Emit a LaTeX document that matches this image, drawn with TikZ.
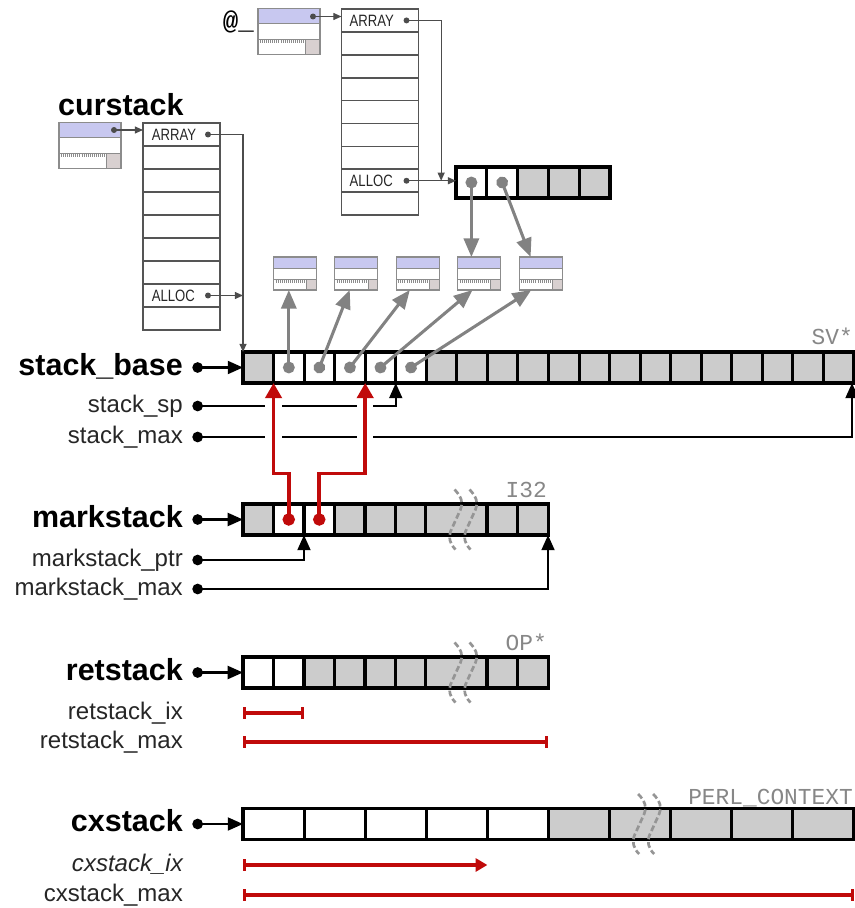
\documentclass[tikz,border=0pt]{standalone}
\usepackage{fontspec}
\setmainfont{Liberation Sans}
\setmonofont{Liberation Mono}
\newfontfamily\narrowsf[FakeStretch=0.8]{Liberation Sans}
\usetikzlibrary{arrows.meta, calc}

\definecolor{cellgray}{RGB}{204,204,204}
\definecolor{svlav}{RGB}{200,200,240}
\definecolor{svsq}{RGB}{216,208,208}
\definecolor{svedge}{RGB}{140,140,140}
\definecolor{ptrgray}{RGB}{130,130,130}
\definecolor{ptrred}{RGB}{192,10,10}
\definecolor{avline}{RGB}{85,85,85}
\definecolor{typegray}{RGB}{135,135,135}

\begin{document}
\begin{tikzpicture}[
    x=0.3mm, y=-0.3mm,
    cell/.style={
        draw,
        line width=2.6pt,
        fill=cellgray,
        inner sep=0pt,
        outer sep=0pt,
        minimum width=9.165mm,
        minimum height=9.3mm
    },
    wcell/.style={cell, minimum width=18.33mm},
    avrow/.style={
        draw=avline,
        line width=1.4pt,
        inner sep=0pt,
        outer sep=0pt,
        minimum width=23.1mm,
        minimum height=6.9mm
    },
    avtext/.style={
        font=\narrowsf\fontsize{14}{16}\selectfont,
        text=black!85,
        inner sep=0pt,
        anchor=west
    },
    sv/.style={
        draw=svedge,
        line width=1pt,
        fill=white,
        inner sep=0pt,
        outer sep=0pt,
        minimum width=18.6mm,
        minimum height=13.8mm,
        path picture={
            \coordinate (svA) at (path picture bounding box.north west);
            \coordinate (svB) at (path picture bounding box.south east);
            \coordinate (svC) at ($(svA)!1/3!(svB)$);
            \coordinate (svD) at ($(svA)!2/3!(svB)$);
            \coordinate (svE) at ($(svA)!0.77!(svB)$);
            \fill[svlav] (svA) rectangle (svB |- svC);
            \fill[svsq] (svE |- svD) rectangle (svB);
            \draw[svedge, line width=0.8pt] (svA |- svC) -- (svB |- svC)
                (svA |- svD) -- (svB |- svD) (svE |- svD) -- (svE |- svB);
            \draw[svedge, line width=2.4pt, dash pattern=on 0.45pt off 1.3pt]
                ($(svA |- svD)+(2,2.5)$) -- ($(svE |- svD)+(-2,2.5)$);
        }
    },
    svsmall/.style={sv, minimum width=12.9mm, minimum height=9.9mm},
    stackname/.style={
        font=\bfseries\fontsize{26}{30}\selectfont,
        inner sep=0pt,
        text height=13.5pt,
        text depth=0pt,
        anchor=east
    },
    fieldname/.style={
        font=\fontsize{20.5}{24}\selectfont,
        text=black!85,
        inner sep=0pt,
        text height=10.6pt,
        text depth=0pt,
        anchor=east
    },
    typename/.style={
        font=\ttfamily\fontsize{19.5}{22}\selectfont,
        text=typegray,
        inner sep=0pt,
        anchor=base east
    },
    ptr/.style={
        {Circle[length=9pt]}-{Triangle[length=13pt,width=11pt]},
        line width=2pt,
        shorten <=8pt
    },
    avptr/.style={
        {Circle[length=5pt]}-{Triangle[length=7pt,width=6pt]},
        line width=1.1pt,
        draw=black!70,
        shorten <=-2.5pt
    },
    svptr/.style={
        {Circle[length=10pt]}-{Triangle[length=16pt,width=13pt]},
        line width=2.6pt,
        draw=ptrgray,
        shorten <=-5pt
    },
    redptr/.style={
        {Circle[length=10.5pt]}-{Triangle[length=13pt,width=14pt]},
        line width=3pt,
        draw=ptrred,
        shorten <=-5.25pt
    },
    span/.style={
        {Bar[width=10pt]}-{Bar[width=10pt]},
        line width=2.8pt,
        draw=ptrred
    },
    halo/.style={draw=white, line width=14pt},
    brkline/.style={draw=ptrgray!85, line width=2.3pt, dash pattern=on 5pt off 2.5pt},
    brk/.pic={
        \foreach \d in {0,15}
            \draw[brkline] (\d-2,-30) .. controls (\d+5,-23) and (\d+7,-16) .. (\d+4,-10)
                -- (\d-6,12) .. controls (\d-8,18) and (\d-7,24) .. (\d-1,30);
    }
]
\useasboundingbox (0,0) rectangle (854,908);

% Nodes: scalars and arrays on top
\node[font=\ttfamily\bfseries\fontsize{22}{24}\selectfont, anchor=base east, inner sep=0pt] (lat) at (254,30) {@\_};
\node[sv] (svat) at (289,31.5) {};
\foreach \i in {1,...,9}
    \node[avrow] (avat-\i) at (380,{9+22.9*(\i-0.5)}) {};
\node[avtext] (taA) at ([xshift=2.4mm]avat-1.west) {ARRAY};
\node[avtext] (taL) at ([xshift=2.4mm]avat-8.west) {ALLOC};

\node[stackname, anchor=base west] (lcur) at (58,116) {curstack};
\node[sv] (svcur) at (90,145.5) {};
\foreach \i in {1,...,9}
    \node[avrow] (avcur-\i) at (181.5,{123+23*(\i-0.5)}) {};
\node[avtext] (tcA) at ([xshift=2.6mm]avcur-1.west) {ARRAY};
\node[avtext] (tcL) at ([xshift=2.6mm]avcur-8.west) {ALLOC};

\foreach \i in {0,...,4}{
    \ifnum\i<2 \def\fillc{white}\else\def\fillc{cellgray}\fi
    \node[cell, minimum width=9.24mm, fill=\fillc] (ta-\i) at ({456+30.8*(\i+0.5)},182.5) {};
}

\foreach \i in {1,...,5}
    \node[svsmall] (sv\i) at ({295+61.4*(\i-1)},273.5) {};

% Nodes: the stacks
\node[stackname] (lsb) at (183,367.5) {stack\_base};
\node[fieldname] (lsp) at (183,406) {stack\_sp};
\node[fieldname] (lsm) at (183,437) {stack\_max};
\foreach \i in {0,...,19}{
    \ifnum\i<1 \def\fillc{cellgray}\else\ifnum\i<6 \def\fillc{white}\else\def\fillc{cellgray}\fi\fi
    \node[cell, fill=\fillc] (sb-\i) at ({243+30.55*(\i+0.5)},367.5) {};
}
\node[typename] (tsv) at (853,344) {SV*};

\node[stackname] (lms) at (183,519.5) {markstack};
\node[fieldname] (lmp) at (183,560) {markstack\_ptr};
\node[fieldname] (lmm) at (183,589) {markstack\_max};
\foreach \i/\x/\fillc/\sty in {0/258.25/cellgray/cell, 1/288.75/white/cell, 2/319.25/white/cell,
        3/349.75/cellgray/cell, 4/380.25/cellgray/cell, 5/410.75/cellgray/cell,
        6/456.5/cellgray/wcell, 7/502.25/cellgray/cell, 8/532.75/cellgray/cell}
    \node[\sty, fill=\fillc] (ms-\i) at (\x,519.5) {};
\pic at (ms-6.center) {brk};
\node[typename] (ti32) at (547,497) {I32};

\node[stackname] (lrs) at (183,672.5) {retstack};
\node[fieldname] (lri) at (183,713) {retstack\_ix};
\node[fieldname] (lrm) at (183,742) {retstack\_max};
\foreach \i/\x/\fillc/\sty in {0/258.25/white/cell, 1/288.75/white/cell, 2/319.25/cellgray/cell,
        3/349.75/cellgray/cell, 4/380.25/cellgray/cell, 5/410.75/cellgray/cell,
        6/456.5/cellgray/wcell, 7/502.25/cellgray/cell, 8/532.75/cellgray/cell}
    \node[\sty, fill=\fillc] (rs-\i) at (\x,672.5) {};
\pic at (rs-6.center) {brk};
\node[typename] (top) at (547,650) {OP*};

\node[stackname] (lcx) at (183,824) {cxstack};
\node[fieldname, font=\itshape\fontsize{20.5}{24}\selectfont] (lci) at (183,865) {cxstack\_ix};
\node[fieldname] (lcm) at (183,895) {cxstack\_max};
\foreach \i in {0,...,9}{
    \ifnum\i<5 \def\fillc{white}\else\def\fillc{cellgray}\fi
    \node[wcell, fill=\fillc] (cx-\i) at ({243+61.1*(\i+0.5)},824) {};
}
\pic at (cx-6.center) {brk};
\node[typename] (tpc) at (853,804) {PERL\_CONTEXT};

% Paths: scalars to arrays
\coordinate (dat) at ($(svat.north east)+(-7,8)$);
\draw[avptr] (dat) -- (dat -| avat-1.west);
\coordinate (daA) at ([xshift=-3.6mm]avat-1.east);
\coordinate (daL) at ([xshift=-3.6mm]avat-8.east);
\draw[avptr] (daL) -- (daL -| ta-0.west);
\draw[avptr] (daA) -| ($(daL)!0.7!(daL -| ta-0.west)$);

\coordinate (dcur) at ($(svcur.north east)+(-7,7.5)$);
\draw[avptr] (dcur) -- (dcur -| avcur-1.west);
\coordinate (dcA) at ([xshift=-3.6mm]avcur-1.east);
\coordinate (dcL) at ([xshift=-3.6mm]avcur-8.east);
\draw[avptr] (dcA) -| (sb-0.north west);
\draw[avptr] (dcL) -- (dcL -| sb-0.north west);

% Paths: stack slots to SVs
\draw[svptr] (sb-1.center) -- (sb-1.center |- sv1.south);
\draw[svptr] (sb-2.center) -- ([xshift=-2mm]sv2.south);
\draw[svptr] (sb-3.center) -- ([xshift=-2.4mm]sv3.south);
\draw[svptr] (sb-4.center) -- ([xshift=-2mm]sv4.south);
\draw[svptr] (sb-5.center) -- ([xshift=-2.8mm]sv5.south);
\draw[svptr] (ta-0.center) -- (ta-0.center |- sv4.north);
\draw[svptr] (ta-1.center) -- ([xshift=-3mm]sv5.north);

% Paths: pointer variables
\draw[ptr] (lsb.east) -- (sb-0.west);
\draw[ptr] (lsp.east) -| (sb-5.south west);
\draw[ptr] (lsm.east) -| ([xshift=-0.6mm]sb-19.south east);
\draw[ptr] (lms.east) -- (ms-0.west);
\draw[ptr] (lmp.east) -| (ms-2.south west);
\draw[ptr] (lmm.east) -| (ms-8.south east);
\draw[ptr] (lrs.east) -- (rs-0.west);
\draw[ptr] (lcx.east) -- (cx-0.west);

% marks into the argument stack
\draw[halo] ($(sb-1.south west)+(0,14)$) -- ($(sb-1.south west)+(0,86)$);
\draw[halo] ($(sb-4.south west)+(0,14)$) -- ($(sb-4.south west)+(0,86)$);
\draw[redptr] (ms-1.center) -- ++(0,-46) -| (sb-1.south west);
\draw[redptr] (ms-2.center) -- ++(0,-46) -| (sb-4.south west);

% index ranges
\draw[span] (rs-0.west |- lri.east) -- (rs-1.east |- lri.east);
\draw[span] (rs-0.west |- lrm.east) -- (rs-8.east |- lrm.east);
\draw[span, {Bar[width=10pt]}-{Triangle[length=10pt,width=11pt]}] (cx-0.west |- lci.east) -- (cx-3.east |- lci.east);
\draw[span] (cx-0.west |- lcm.east) -- (cx-9.east |- lcm.east);

\end{tikzpicture}
\end{document}
